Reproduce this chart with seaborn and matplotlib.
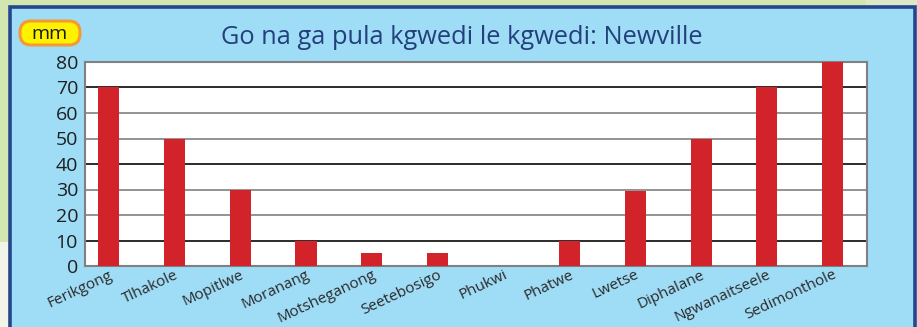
import matplotlib
matplotlib.use("Agg")
import matplotlib.pyplot as plt
from matplotlib.patches import Rectangle, FancyBboxPatch
import seaborn as sns
import pandas as pd

months = ["Ferikgong", "Tlhakole", "Mopitlwe", "Moranang", "Motsheganong",
          "Seetebosigo", "Phukwi", "Phatwe", "Lwetse", "Diphalane",
          "Ngwanaitseele", "Sedimonthole"]
rain_mm = [70, 50, 30, 10, 5, 5, 0, 10, 29.5, 50, 70, 80]
y_ticks = [0, 10, 20, 30, 40, 50, 60, 70, 80]
title = "Go na ga pula kgwedi le kgwedi: Newville"
unit = "mm"

sns.set_theme(style="white")
plt.rcParams["font.family"] = ["Open Sans", "DejaVu Sans"]

W, H = 917, 327
fig = plt.figure(figsize=(W / 100, H / 100), dpi=100)
fig.patch.set_facecolor("#f1f4e6")

def fx(px):
    return px / W

def fy(py):
    return 1 - py / H

# page background and the blue panel
fig.patches.append(Rectangle((0, fy(242)), fx(8), 1 - fy(242), transform=fig.transFigure,
                             facecolor="#d4e6b0", edgecolor="none", zorder=0))
fig.patches.append(Rectangle((0, fy(6)), fx(866), 1 - fy(6), transform=fig.transFigure,
                             facecolor="#d4e6b0", edgecolor="none", zorder=0))
fig.patches.append(Rectangle((fx(866), fy(6)), 1 - fx(866), 1 - fy(6), transform=fig.transFigure,
                             facecolor="#dfe8c6", edgecolor="none", zorder=0))
fig.patches.append(Rectangle((fx(9.5), fy(332)), fx(905), fy(6.5) - fy(332), transform=fig.transFigure,
                             facecolor="#9fdcf6", edgecolor="#23468c", linewidth=2.6, zorder=1))

# unit badge
fig.patches.append(FancyBboxPatch((fx(20), fy(45)), fx(60), fy(21) - fy(45),
                                  boxstyle="round,pad=0,rounding_size=0.012",
                                  transform=fig.transFigure, facecolor="#fff200",
                                  edgecolor="#f59a32", linewidth=2.2, zorder=2,
                                  mutation_aspect=W / H))
fig.text(fx(49.5), fy(34), unit, ha="center", va="center", fontsize=14, color="#1a1a1a", zorder=3)

fig.text(fx(462), fy(37), title, ha="center", va="center", fontsize=18.3, color="#233f7c", zorder=3)

ax = fig.add_axes([fx(85), fy(266), fx(782), fy(62) - fy(266)], zorder=2)
ax.set_facecolor("white")

df = pd.DataFrame({"month": months, "rain": rain_mm})
sns.barplot(data=df, x="month", y="rain", color="#d2232a", saturation=1, width=0.32,
            ax=ax, zorder=3)
for p in ax.patches:
    p.set_edgecolor("none")

ax.set_ylim(0, 80)
ax.set_xlim(-0.357, 11.52)
ax.set_yticks(y_ticks)
ax.set_yticklabels([str(t) for t in y_ticks])
ax.set_xticks(range(len(months)))
ax.set_xticklabels(months, rotation=25, ha="right", rotation_mode="anchor")

for t in y_ticks[1:-1]:
    dark = t in (10, 40, 70)
    ax.axhline(t, color="#1a1a1a" if dark else "#8a8a8a", linewidth=1.3, zorder=1)

ax.set_xlabel("")
ax.set_ylabel("")
ax.tick_params(axis="both", length=0)
ax.tick_params(axis="y", labelsize=14, colors="#1f1f1f", pad=5)
ax.tick_params(axis="x", labelsize=11, colors="#2a2a2a", pad=1)
for s in ax.spines.values():
    s.set_visible(True)
    s.set_color("#808080")
    s.set_linewidth(1.5)

fig.savefig("out.png", dpi=100, facecolor=fig.get_facecolor())
